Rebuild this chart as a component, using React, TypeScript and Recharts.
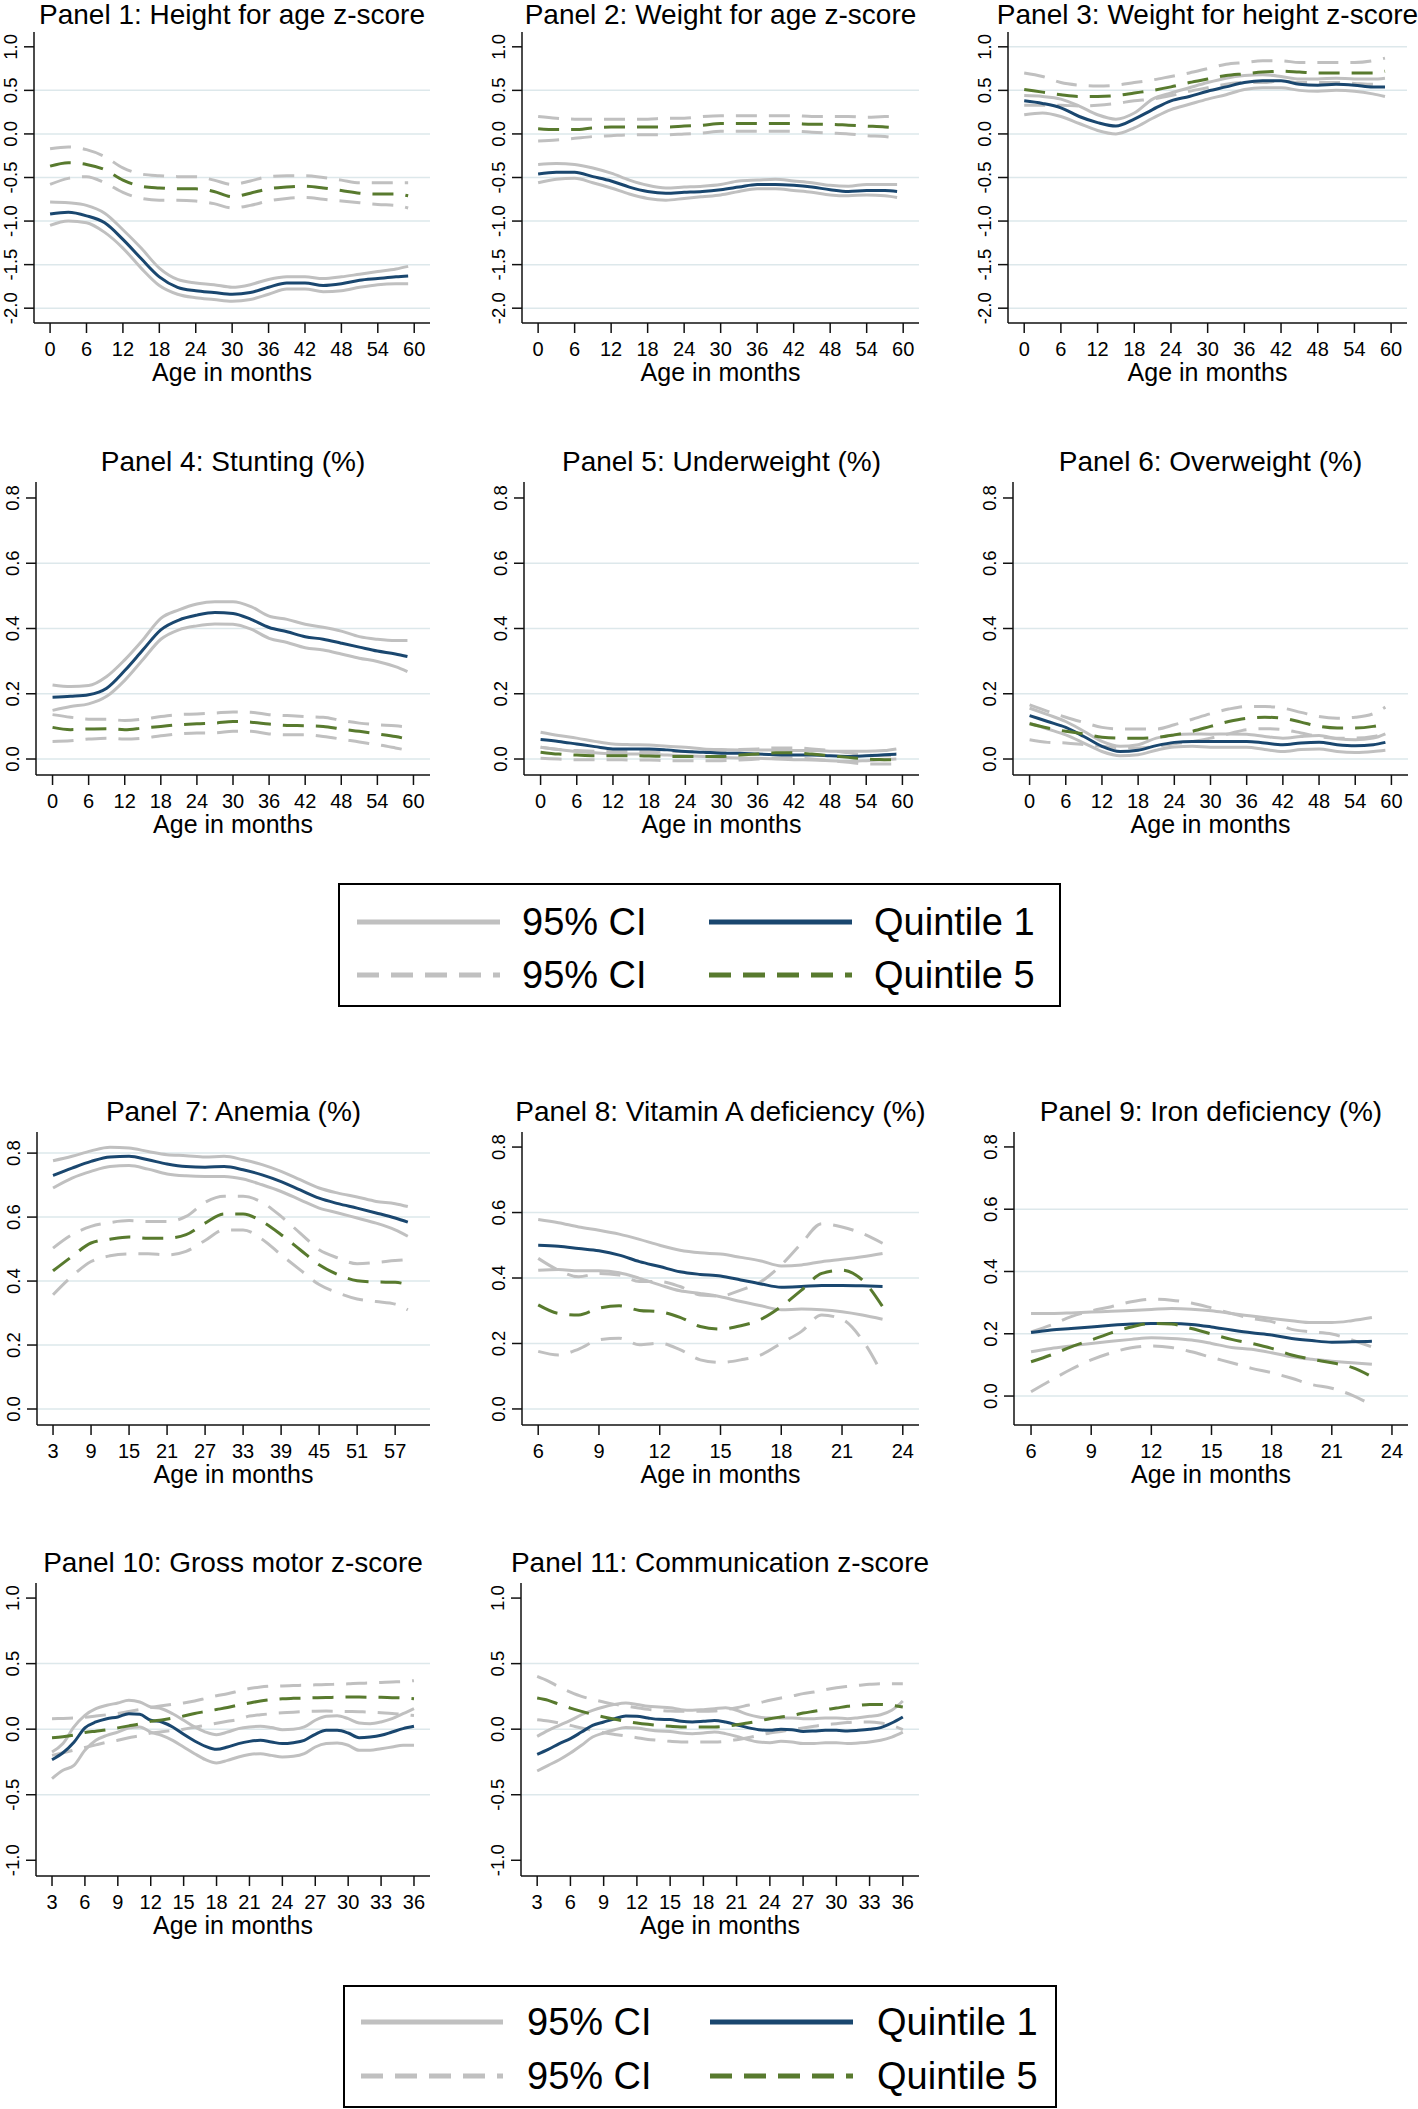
import React from 'react'
import { LineChart, Line, XAxis, YAxis, ReferenceLine } from 'recharts'

/* ────────────────────────────────────────────────────────
   Shared styles
───────────────────────────────────────────────────────── */
const FONT = '"Liberation Sans", Arial, Helvetica, sans-serif'
const BLUE = '#1a476f'
const GREEN = '#587a2e'
const GRAY = '#c0c0c0'
const GRID = '#dde8eb'
const AXIS = '#111111'
const DASH = '21 12'
const YW = 40 // y axis band
const XH = 45 // x axis band

/* ────────────────────────────────────────────────────────
   Ages (x values)
───────────────────────────────────────────────────────── */
const AGE_0_59 = [0, 3, 6, 9, 12, 15, 18, 21, 24, 27, 30, 33, 36, 39, 42, 45, 48, 51, 54, 57, 59]
const AGE_3_59 = [3, 6, 9, 12, 15, 18, 21, 24, 27, 30, 33, 36, 39, 42, 45, 48, 51, 54, 57, 59]
const AGE_6_23 = [6, 7, 8, 9, 10, 11, 12, 13, 14, 15, 16, 17, 18, 19, 20, 21, 22, 23]
const AGE_3_36 = [3, 4, 5, 6, 7, 8, 9, 10, 11, 12, 13, 14, 15, 16, 17, 18, 19, 20, 21, 22, 23, 24, 25, 26, 27, 28, 29, 30, 31, 32, 33, 34, 35, 36]

/* ────────────────────────────────────────────────────────
   Axis ticks
───────────────────────────────────────────────────────── */
const TICKS_0_60 = [0, 6, 12, 18, 24, 30, 36, 42, 48, 54, 60]
const TICKS_3_57 = [3, 9, 15, 21, 27, 33, 39, 45, 51, 57]
const TICKS_6_24 = [6, 9, 12, 15, 18, 21, 24]
const TICKS_3_36 = [3, 6, 9, 12, 15, 18, 21, 24, 27, 30, 33, 36]
const Z_TICKS = [-2, -1.5, -1, -0.5, 0, 0.5, 1]
const P_TICKS = [0, 0.2, 0.4, 0.6, 0.8]
const DEV_TICKS = [-1, -0.5, 0, 0.5, 1]

/* ────────────────────────────────────────────────────────
   Panel 1: Height for age z-score
───────────────────────────────────────────────────────── */
const p1Q1 = [-0.92, -0.90, -0.94, -1.02, -1.21, -1.43, -1.64, -1.76, -1.80, -1.82, -1.84, -1.82, -1.76, -1.71, -1.71, -1.74, -1.72, -1.68, -1.66, -1.64, -1.63]
const p1Q1Hi = [-0.78, -0.79, -0.82, -0.91, -1.10, -1.31, -1.54, -1.67, -1.71, -1.73, -1.76, -1.73, -1.67, -1.64, -1.64, -1.66, -1.64, -1.61, -1.58, -1.55, -1.52]
const p1Q1Lo = [-1.05, -1.00, -1.02, -1.13, -1.31, -1.54, -1.74, -1.84, -1.88, -1.90, -1.92, -1.90, -1.84, -1.78, -1.78, -1.81, -1.80, -1.76, -1.73, -1.72, -1.72]
const p1Q5 = [-0.37, -0.33, -0.35, -0.41, -0.53, -0.60, -0.62, -0.63, -0.63, -0.66, -0.72, -0.68, -0.63, -0.61, -0.60, -0.62, -0.65, -0.68, -0.69, -0.69, -0.71]
const p1Q5Hi = [-0.17, -0.15, -0.18, -0.26, -0.39, -0.46, -0.48, -0.49, -0.49, -0.53, -0.58, -0.54, -0.49, -0.48, -0.48, -0.50, -0.53, -0.56, -0.56, -0.56, -0.56]
const p1Q5Lo = [-0.58, -0.51, -0.49, -0.56, -0.67, -0.74, -0.76, -0.76, -0.77, -0.80, -0.85, -0.82, -0.77, -0.74, -0.73, -0.75, -0.77, -0.79, -0.81, -0.82, -0.85]

/* Panel 2: Weight for age z-score */
const p2Q1 = [-0.46, -0.44, -0.44, -0.49, -0.54, -0.61, -0.66, -0.68, -0.67, -0.66, -0.64, -0.61, -0.58, -0.58, -0.59, -0.61, -0.64, -0.66, -0.65, -0.65, -0.66]
const p2Q1Hi = [-0.35, -0.34, -0.35, -0.39, -0.45, -0.53, -0.59, -0.62, -0.61, -0.60, -0.58, -0.54, -0.53, -0.52, -0.54, -0.56, -0.59, -0.60, -0.58, -0.58, -0.58]
const p2Q1Lo = [-0.56, -0.52, -0.51, -0.56, -0.62, -0.69, -0.74, -0.76, -0.74, -0.72, -0.70, -0.66, -0.63, -0.63, -0.65, -0.67, -0.70, -0.71, -0.70, -0.71, -0.73]
const p2Q5 = [0.06, 0.05, 0.05, 0.07, 0.08, 0.08, 0.08, 0.08, 0.09, 0.10, 0.12, 0.12, 0.12, 0.12, 0.12, 0.11, 0.11, 0.10, 0.09, 0.08, 0.07]
const p2Q5Hi = [0.20, 0.18, 0.17, 0.17, 0.17, 0.17, 0.17, 0.18, 0.18, 0.20, 0.21, 0.21, 0.21, 0.21, 0.21, 0.20, 0.20, 0.20, 0.19, 0.20, 0.20]
const p2Q5Lo = [-0.08, -0.07, -0.05, -0.03, -0.02, -0.01, -0.01, -0.01, 0.00, 0.01, 0.03, 0.03, 0.03, 0.03, 0.03, 0.02, 0.01, 0.00, -0.02, -0.03, -0.05]

/* Panel 3: Weight for height z-score */
const p3Q1 = [0.38, 0.35, 0.30, 0.20, 0.13, 0.09, 0.17, 0.28, 0.38, 0.43, 0.49, 0.54, 0.59, 0.61, 0.61, 0.57, 0.56, 0.57, 0.56, 0.54, 0.54]
const p3Q1Hi = [0.44, 0.43, 0.40, 0.32, 0.22, 0.17, 0.24, 0.40, 0.47, 0.53, 0.59, 0.64, 0.67, 0.68, 0.66, 0.63, 0.63, 0.64, 0.63, 0.63, 0.64]
const p3Q1Lo = [0.22, 0.24, 0.20, 0.12, 0.04, 0.00, 0.07, 0.18, 0.28, 0.34, 0.40, 0.45, 0.51, 0.53, 0.53, 0.50, 0.49, 0.50, 0.49, 0.46, 0.43]
const p3Q5 = [0.51, 0.48, 0.45, 0.43, 0.43, 0.44, 0.47, 0.50, 0.54, 0.59, 0.63, 0.67, 0.69, 0.71, 0.72, 0.71, 0.70, 0.70, 0.70, 0.70, 0.72]
const p3Q5Hi = [0.70, 0.66, 0.59, 0.56, 0.55, 0.56, 0.59, 0.62, 0.66, 0.70, 0.75, 0.80, 0.82, 0.84, 0.84, 0.82, 0.82, 0.82, 0.82, 0.84, 0.87]
const p3Q5Lo = [0.33, 0.33, 0.33, 0.32, 0.33, 0.35, 0.38, 0.40, 0.44, 0.49, 0.53, 0.57, 0.59, 0.59, 0.61, 0.59, 0.59, 0.59, 0.58, 0.57, 0.57]

/* Panel 4: Stunting */
const p4Q1 = [0.189, 0.192, 0.197, 0.217, 0.271, 0.334, 0.396, 0.426, 0.441, 0.449, 0.446, 0.428, 0.403, 0.390, 0.375, 0.367, 0.355, 0.343, 0.331, 0.322, 0.314]
const p4Q1Hi = [0.227, 0.222, 0.225, 0.253, 0.304, 0.365, 0.431, 0.457, 0.475, 0.482, 0.482, 0.467, 0.438, 0.428, 0.413, 0.404, 0.392, 0.375, 0.367, 0.363, 0.363]
const p4Q1Lo = [0.149, 0.161, 0.169, 0.192, 0.241, 0.304, 0.367, 0.396, 0.408, 0.414, 0.413, 0.398, 0.370, 0.357, 0.341, 0.334, 0.322, 0.309, 0.299, 0.283, 0.268]
const p4Q5 = [0.097, 0.090, 0.092, 0.093, 0.090, 0.095, 0.100, 0.105, 0.108, 0.110, 0.115, 0.113, 0.107, 0.103, 0.102, 0.100, 0.092, 0.085, 0.077, 0.069, 0.061]
const p4Q5Hi = [0.136, 0.128, 0.122, 0.122, 0.118, 0.122, 0.130, 0.136, 0.138, 0.141, 0.144, 0.143, 0.136, 0.133, 0.130, 0.128, 0.118, 0.110, 0.105, 0.102, 0.098]
const p4Q5Lo = [0.054, 0.056, 0.061, 0.064, 0.061, 0.064, 0.071, 0.077, 0.080, 0.080, 0.085, 0.085, 0.077, 0.074, 0.074, 0.069, 0.061, 0.052, 0.044, 0.034, 0.027]

/* Panel 5: Underweight */
const p5Q1 = [0.060, 0.054, 0.046, 0.038, 0.031, 0.031, 0.031, 0.028, 0.023, 0.021, 0.018, 0.018, 0.015, 0.013, 0.012, 0.012, 0.010, 0.008, 0.010, 0.013, 0.015]
const p5Q1Hi = [0.082, 0.072, 0.064, 0.054, 0.046, 0.044, 0.043, 0.039, 0.036, 0.031, 0.029, 0.028, 0.028, 0.028, 0.026, 0.026, 0.024, 0.024, 0.024, 0.026, 0.031]
const p5Q1Lo = [0.036, 0.029, 0.023, 0.019, 0.015, 0.015, 0.015, 0.012, 0.010, 0.008, 0.005, 0.003, 0.002, 0.000, -0.002, -0.003, -0.005, -0.007, -0.005, -0.002, 0.000]
const p5Q5 = [0.021, 0.015, 0.012, 0.010, 0.010, 0.010, 0.009, 0.008, 0.008, 0.008, 0.008, 0.012, 0.015, 0.019, 0.019, 0.015, 0.010, 0.005, 0.000, -0.002, -0.003]
const p5Q5Hi = [0.036, 0.029, 0.026, 0.024, 0.023, 0.023, 0.023, 0.023, 0.023, 0.024, 0.026, 0.029, 0.031, 0.034, 0.034, 0.031, 0.026, 0.019, 0.012, 0.010, 0.010]
const p5Q5Lo = [0.002, 0.000, -0.002, -0.002, -0.002, -0.003, -0.003, -0.005, -0.005, -0.005, -0.005, -0.003, 0.000, 0.003, 0.003, 0.000, -0.005, -0.010, -0.015, -0.015, -0.015]

/* Panel 6: Overweight */
const p6Q1 = [0.133, 0.115, 0.097, 0.069, 0.039, 0.023, 0.027, 0.041, 0.051, 0.054, 0.054, 0.054, 0.054, 0.049, 0.044, 0.049, 0.051, 0.044, 0.041, 0.044, 0.051]
const p6Q1Hi = [0.156, 0.136, 0.115, 0.085, 0.054, 0.039, 0.044, 0.064, 0.074, 0.077, 0.076, 0.077, 0.076, 0.069, 0.064, 0.069, 0.072, 0.062, 0.059, 0.064, 0.077]
const p6Q1Lo = [0.110, 0.092, 0.074, 0.049, 0.023, 0.010, 0.013, 0.027, 0.037, 0.039, 0.036, 0.036, 0.036, 0.029, 0.023, 0.029, 0.031, 0.023, 0.020, 0.023, 0.027]
const p6Q5 = [0.108, 0.095, 0.085, 0.077, 0.067, 0.064, 0.064, 0.066, 0.074, 0.085, 0.100, 0.115, 0.125, 0.128, 0.125, 0.113, 0.100, 0.095, 0.095, 0.100, 0.108]
const p6Q5Hi = [0.166, 0.146, 0.128, 0.112, 0.097, 0.092, 0.092, 0.092, 0.105, 0.122, 0.139, 0.153, 0.161, 0.161, 0.156, 0.143, 0.130, 0.125, 0.128, 0.139, 0.159]
const p6Q5Lo = [0.059, 0.051, 0.049, 0.044, 0.039, 0.034, 0.034, 0.039, 0.047, 0.054, 0.064, 0.077, 0.090, 0.093, 0.090, 0.080, 0.069, 0.064, 0.064, 0.069, 0.077]

/* Panel 7: Anemia */
const p7Q1 = [0.730, 0.753, 0.774, 0.788, 0.790, 0.779, 0.766, 0.758, 0.756, 0.758, 0.748, 0.732, 0.711, 0.685, 0.659, 0.642, 0.628, 0.613, 0.597, 0.584]
const p7Q1Hi = [0.776, 0.790, 0.807, 0.818, 0.816, 0.805, 0.795, 0.792, 0.788, 0.790, 0.779, 0.764, 0.743, 0.717, 0.691, 0.675, 0.663, 0.649, 0.642, 0.633]
const p7Q1Lo = [0.691, 0.722, 0.743, 0.758, 0.761, 0.750, 0.735, 0.729, 0.727, 0.727, 0.719, 0.701, 0.680, 0.654, 0.628, 0.613, 0.597, 0.581, 0.560, 0.540]
const p7Q5 = [0.432, 0.477, 0.519, 0.531, 0.538, 0.534, 0.534, 0.545, 0.581, 0.610, 0.610, 0.586, 0.545, 0.498, 0.451, 0.420, 0.401, 0.397, 0.396, 0.389]
const p7Q5Hi = [0.503, 0.545, 0.571, 0.583, 0.589, 0.586, 0.586, 0.602, 0.646, 0.665, 0.665, 0.646, 0.602, 0.550, 0.498, 0.472, 0.454, 0.458, 0.464, 0.467]
const p7Q5Lo = [0.357, 0.415, 0.461, 0.479, 0.485, 0.485, 0.482, 0.493, 0.527, 0.560, 0.560, 0.531, 0.482, 0.435, 0.389, 0.363, 0.344, 0.336, 0.328, 0.310]

/* Panel 8: Vitamin A deficiency */
const p8Q1 = [0.500, 0.497, 0.490, 0.483, 0.470, 0.450, 0.435, 0.419, 0.411, 0.406, 0.394, 0.382, 0.372, 0.374, 0.377, 0.377, 0.376, 0.374]
const p8Q1Hi = [0.579, 0.569, 0.556, 0.546, 0.534, 0.518, 0.500, 0.485, 0.477, 0.473, 0.463, 0.452, 0.437, 0.440, 0.450, 0.457, 0.465, 0.475]
const p8Q1Lo = [0.424, 0.426, 0.422, 0.422, 0.416, 0.399, 0.379, 0.361, 0.353, 0.343, 0.328, 0.315, 0.303, 0.305, 0.303, 0.297, 0.287, 0.274]
const p8Q5 = [0.318, 0.292, 0.287, 0.308, 0.315, 0.301, 0.297, 0.280, 0.252, 0.244, 0.254, 0.274, 0.313, 0.363, 0.414, 0.424, 0.394, 0.313]
const p8Q5Hi = [0.460, 0.424, 0.404, 0.414, 0.409, 0.389, 0.389, 0.374, 0.348, 0.345, 0.363, 0.389, 0.440, 0.506, 0.566, 0.556, 0.536, 0.506]
const p8Q5Lo = [0.176, 0.165, 0.183, 0.211, 0.216, 0.196, 0.201, 0.181, 0.150, 0.142, 0.150, 0.165, 0.201, 0.237, 0.287, 0.274, 0.211, 0.105]

/* Panel 9: Iron deficiency */
const p9Q1 = [0.204, 0.212, 0.217, 0.222, 0.227, 0.231, 0.233, 0.233, 0.230, 0.222, 0.212, 0.203, 0.196, 0.185, 0.178, 0.173, 0.174, 0.176]
const p9Q1Hi = [0.265, 0.265, 0.267, 0.270, 0.272, 0.275, 0.278, 0.281, 0.279, 0.274, 0.265, 0.257, 0.249, 0.242, 0.236, 0.236, 0.242, 0.252]
const p9Q1Lo = [0.142, 0.153, 0.161, 0.169, 0.176, 0.182, 0.187, 0.185, 0.180, 0.169, 0.156, 0.150, 0.139, 0.126, 0.118, 0.112, 0.107, 0.102]
const p9Q5 = [0.110, 0.132, 0.158, 0.180, 0.203, 0.222, 0.233, 0.231, 0.217, 0.199, 0.182, 0.169, 0.153, 0.132, 0.118, 0.107, 0.092, 0.062]
const p9Q5Hi = [0.206, 0.228, 0.255, 0.273, 0.287, 0.303, 0.311, 0.308, 0.299, 0.283, 0.265, 0.249, 0.239, 0.214, 0.206, 0.199, 0.180, 0.158]
const p9Q5Lo = [0.014, 0.051, 0.086, 0.116, 0.139, 0.155, 0.161, 0.156, 0.142, 0.124, 0.107, 0.089, 0.075, 0.057, 0.037, 0.025, 0.003, -0.029]

/* Panel 10: Gross motor z-score */
const p10Q1 = [-0.233, -0.180, -0.100, 0.010, 0.055, 0.080, 0.093, 0.118, 0.113, 0.068, 0.055, 0.017, -0.039, -0.090, -0.131, -0.154, -0.136, -0.110, -0.093, -0.085, -0.098, -0.110, -0.103, -0.085, -0.039, -0.009, -0.009, -0.029, -0.065, -0.060, -0.047, -0.022, 0.004, 0.022]
const p10Q1Hi = [-0.174, -0.110, 0.017, 0.105, 0.156, 0.182, 0.200, 0.220, 0.207, 0.169, 0.156, 0.118, 0.068, 0.017, -0.022, -0.042, -0.022, 0.004, 0.017, 0.022, 0.012, -0.004, -0.001, 0.017, 0.068, 0.098, 0.103, 0.080, 0.047, 0.042, 0.055, 0.080, 0.118, 0.156]
const p10Q1Lo = [-0.377, -0.314, -0.276, -0.161, -0.085, -0.047, -0.022, 0.009, 0.017, -0.022, -0.047, -0.085, -0.136, -0.187, -0.233, -0.258, -0.238, -0.212, -0.194, -0.187, -0.200, -0.212, -0.207, -0.187, -0.136, -0.110, -0.105, -0.123, -0.161, -0.161, -0.149, -0.136, -0.123, -0.123]
const p10Q5 = [-0.065, -0.058, -0.045, -0.025, -0.015, -0.005, 0.010, 0.025, 0.040, 0.060, 0.070, 0.085, 0.100, 0.120, 0.135, 0.150, 0.165, 0.185, 0.200, 0.215, 0.225, 0.232, 0.235, 0.237, 0.240, 0.242, 0.243, 0.245, 0.245, 0.244, 0.243, 0.240, 0.238, 0.232]
const p10Q5Hi = [0.080, 0.082, 0.085, 0.090, 0.100, 0.110, 0.120, 0.135, 0.150, 0.165, 0.178, 0.190, 0.200, 0.215, 0.235, 0.255, 0.270, 0.290, 0.310, 0.322, 0.328, 0.330, 0.333, 0.335, 0.338, 0.340, 0.343, 0.346, 0.350, 0.352, 0.356, 0.360, 0.363, 0.370]
const p10Q5Lo = [-0.200, -0.180, -0.160, -0.140, -0.120, -0.100, -0.085, -0.065, -0.050, -0.030, -0.020, -0.010, 0.000, 0.015, 0.030, 0.045, 0.060, 0.075, 0.100, 0.110, 0.118, 0.125, 0.130, 0.134, 0.137, 0.138, 0.137, 0.135, 0.133, 0.130, 0.125, 0.120, 0.112, 0.105]

/* Panel 11: Communication z-score */
const p11Q1 = [-0.192, -0.154, -0.110, -0.072, -0.022, 0.029, 0.055, 0.080, 0.100, 0.098, 0.085, 0.075, 0.073, 0.060, 0.055, 0.060, 0.067, 0.055, 0.034, 0.012, -0.004, -0.009, -0.001, -0.004, -0.017, -0.014, -0.009, -0.009, -0.014, -0.009, -0.001, 0.012, 0.047, 0.093]
const p11Q1Hi = [-0.055, -0.009, 0.029, 0.067, 0.110, 0.144, 0.169, 0.189, 0.200, 0.189, 0.174, 0.169, 0.164, 0.149, 0.144, 0.149, 0.156, 0.164, 0.144, 0.113, 0.093, 0.085, 0.085, 0.085, 0.080, 0.080, 0.085, 0.085, 0.080, 0.088, 0.098, 0.110, 0.144, 0.215]
const p11Q1Lo = [-0.319, -0.276, -0.233, -0.182, -0.123, -0.060, -0.029, -0.004, 0.012, 0.009, -0.004, -0.014, -0.017, -0.029, -0.034, -0.029, -0.022, -0.034, -0.055, -0.080, -0.098, -0.103, -0.093, -0.098, -0.110, -0.110, -0.103, -0.103, -0.110, -0.105, -0.098, -0.085, -0.060, -0.022]
const p11Q5 = [0.238, 0.220, 0.189, 0.161, 0.136, 0.113, 0.093, 0.075, 0.060, 0.047, 0.037, 0.029, 0.022, 0.017, 0.017, 0.017, 0.017, 0.022, 0.034, 0.047, 0.062, 0.080, 0.093, 0.105, 0.123, 0.136, 0.149, 0.161, 0.174, 0.182, 0.189, 0.189, 0.182, 0.169]
const p11Q5Hi = [0.403, 0.367, 0.321, 0.283, 0.250, 0.227, 0.207, 0.189, 0.177, 0.164, 0.151, 0.144, 0.138, 0.136, 0.136, 0.136, 0.138, 0.149, 0.164, 0.182, 0.200, 0.220, 0.238, 0.253, 0.271, 0.283, 0.301, 0.316, 0.326, 0.334, 0.342, 0.347, 0.347, 0.347]
const p11Q5Lo = [0.072, 0.062, 0.047, 0.029, 0.009, -0.009, -0.027, -0.040, -0.052, -0.065, -0.078, -0.085, -0.093, -0.098, -0.098, -0.098, -0.098, -0.093, -0.080, -0.065, -0.047, -0.029, -0.017, -0.004, 0.009, 0.022, 0.034, 0.042, 0.050, 0.055, 0.055, 0.047, 0.029, -0.004]

/* ────────────────────────────────────────────────────────
   Table building
───────────────────────────────────────────────────────── */
function buildRows(ages: number[], q1: number[], q1Hi: number[], q1Lo: number[], q5: number[], q5Hi: number[], q5Lo: number[]) {
  return ages.map((age, i) => ({
    age, q1: q1[i], q1Hi: q1Hi[i], q1Lo: q1Lo[i], q5: q5[i], q5Hi: q5Hi[i], q5Lo: q5Lo[i],
  }))
}

interface PanelSpec {
  title: string
  rows: ReturnType<typeof buildRows>
  xDomain: [number, number]
  xTicks: number[]
  yDomain: [number, number]
  yTicks: number[]
  grid: number[]
  left: number   // page x of y axis
  right: number  // page x of plot right edge
  top: number    // page y of plot top
  bottom: number // page y of x axis
}

const ROW1_X: [number, number] = [-2.65, 62.6]
const ROW2_X: [number, number] = [-2.75, 62.75]
const ROW4_X: [number, number] = [1.54, 37.46]

const PANELS: PanelSpec[] = [
  { title: 'Panel 1: Height for age z-score', rows: buildRows(AGE_0_59, p1Q1, p1Q1Hi, p1Q1Lo, p1Q5, p1Q5Hi, p1Q5Lo),
    xDomain: ROW1_X, xTicks: TICKS_0_60, yDomain: [-2.17, 1.17], yTicks: Z_TICKS, grid: [0.5, 0, -0.5, -1, -1.5, -2],
    left: 34, right: 430, top: 32, bottom: 323 },
  { title: 'Panel 2: Weight for age z-score', rows: buildRows(AGE_0_59, p2Q1, p2Q1Hi, p2Q1Lo, p2Q5, p2Q5Hi, p2Q5Lo),
    xDomain: ROW1_X, xTicks: TICKS_0_60, yDomain: [-2.17, 1.17], yTicks: Z_TICKS, grid: [0.5, 0, -0.5, -1, -1.5, -2],
    left: 522, right: 919, top: 32, bottom: 323 },
  { title: 'Panel 3: Weight for height z-score', rows: buildRows(AGE_0_59, p3Q1, p3Q1Hi, p3Q1Lo, p3Q5, p3Q5Hi, p3Q5Lo),
    xDomain: ROW1_X, xTicks: TICKS_0_60, yDomain: [-2.17, 1.17], yTicks: Z_TICKS, grid: [1, 0.5, 0, -0.5, -1, -1.5, -2],
    left: 1008, right: 1407, top: 32, bottom: 323 },
  { title: 'Panel 4: Stunting (%)', rows: buildRows(AGE_0_59, p4Q1, p4Q1Hi, p4Q1Lo, p4Q5, p4Q5Hi, p4Q5Lo),
    xDomain: ROW2_X, xTicks: TICKS_0_60, yDomain: [-0.049, 0.849], yTicks: P_TICKS, grid: [0.6, 0.4, 0.2, 0],
    left: 36, right: 430, top: 482, bottom: 775 },
  { title: 'Panel 5: Underweight (%)', rows: buildRows(AGE_0_59, p5Q1, p5Q1Hi, p5Q1Lo, p5Q5, p5Q5Hi, p5Q5Lo),
    xDomain: ROW2_X, xTicks: TICKS_0_60, yDomain: [-0.049, 0.849], yTicks: P_TICKS, grid: [0.6, 0.4, 0.2, 0],
    left: 524, right: 919, top: 482, bottom: 775 },
  { title: 'Panel 6: Overweight (%)', rows: buildRows(AGE_0_59, p6Q1, p6Q1Hi, p6Q1Lo, p6Q5, p6Q5Hi, p6Q5Lo),
    xDomain: ROW2_X, xTicks: TICKS_0_60, yDomain: [-0.049, 0.849], yTicks: P_TICKS, grid: [0.6, 0.4, 0.2, 0],
    left: 1013, right: 1408, top: 482, bottom: 775 },
  { title: 'Panel 7: Anemia (%)', rows: buildRows(AGE_3_59, p7Q1, p7Q1Hi, p7Q1Lo, p7Q5, p7Q5Hi, p7Q5Lo),
    xDomain: [0.47, 62.5], xTicks: TICKS_3_57, yDomain: [-0.05, 0.866], yTicks: P_TICKS, grid: [0.8, 0.6, 0.4, 0.2, 0],
    left: 37, right: 430, top: 1132, bottom: 1425 },
  { title: 'Panel 8: Vitamin A deficiency (%)', rows: buildRows(AGE_6_23, p8Q1, p8Q1Hi, p8Q1Lo, p8Q5, p8Q5Hi, p8Q5Lo),
    xDomain: [5.2, 24.8], xTicks: TICKS_6_24, yDomain: [-0.049, 0.846], yTicks: P_TICKS, grid: [0.6, 0.4, 0.2, 0],
    left: 522, right: 919, top: 1132, bottom: 1425 },
  { title: 'Panel 9: Iron deficiency (%)', rows: buildRows(AGE_6_23, p9Q1, p9Q1Hi, p9Q1Lo, p9Q5, p9Q5Hi, p9Q5Lo),
    xDomain: [5.15, 24.8], xTicks: TICKS_6_24, yDomain: [-0.093, 0.848], yTicks: P_TICKS, grid: [0.6, 0.4, 0.2, 0],
    left: 1014, right: 1408, top: 1132, bottom: 1425 },
  { title: 'Panel 10: Gross motor z-score', rows: buildRows(AGE_3_36, p10Q1, p10Q1Hi, p10Q1Lo, p10Q5, p10Q5Hi, p10Q5Lo),
    xDomain: ROW4_X, xTicks: TICKS_3_36, yDomain: [-1.12, 1.115], yTicks: DEV_TICKS, grid: [0.5, 0, -0.5],
    left: 36, right: 430, top: 1583, bottom: 1876 },
  { title: 'Panel 11: Communication z-score', rows: buildRows(AGE_3_36, p11Q1, p11Q1Hi, p11Q1Lo, p11Q5, p11Q5Hi, p11Q5Lo),
    xDomain: ROW4_X, xTicks: TICKS_3_36, yDomain: [-1.12, 1.115], yTicks: DEV_TICKS, grid: [0.5, 0, -0.5],
    left: 521, right: 919, top: 1583, bottom: 1876 },
]

/* ────────────────────────────────────────────────────────
   Legends
───────────────────────────────────────────────────────── */
const LEGEND_ITEMS = [
  { label: '95% CI', color: GRAY, dash: undefined as string | undefined, col: 0, row: 0 },
  { label: 'Quintile 1', color: BLUE, dash: undefined as string | undefined, col: 1, row: 0 },
  { label: '95% CI', color: GRAY, dash: '22 12', col: 0, row: 1 },
  { label: 'Quintile 5', color: GREEN, dash: '22 12', col: 1, row: 1 },
]

const LEGENDS = [
  { x: 339, y: 884, w: 721, h: 122, rows: [922, 975], lines: [[357, 500], [709, 852]], texts: [522, 874] },
  { x: 344, y: 1986, w: 712, h: 121, rows: [2022, 2076], lines: [[361, 503], [710, 853]], texts: [527, 877] },
]

/* ────────────────────────────────────────────────────────
   Ticks
───────────────────────────────────────────────────────── */
function YTick(props: any) {
  const { x, y, payload } = props
  return (
    <text transform={`translate(${x - 7},${y}) rotate(-90)`} textAnchor="middle"
      fontSize={18.5} fontFamily={FONT} fill="#000">
      {Number(payload.value).toFixed(1)}
    </text>
  )
}

function XTick(props: any) {
  const { x, y, payload } = props
  return (
    <text x={x} y={y + 23} textAnchor="middle" fontSize={20} fontFamily={FONT} fill="#000">
      {payload.value}
    </text>
  )
}

/* ────────────────────────────────────────────────────────
   One panel
───────────────────────────────────────────────────────── */
function Panel({ p }: { p: PanelSpec }) {
  const plotW = p.right - p.left
  const plotH = p.bottom - p.top
  const width = YW + plotW + 10
  const height = 10 + plotH + XH
  return (
    <div style={{ position: 'absolute', left: p.left - YW, top: p.top - 10, width, height }}>
      <LineChart width={width} height={height} data={p.rows} margin={{ top: 10, right: 10, bottom: 0, left: 0 }}>
        <XAxis type="number" dataKey="age" domain={p.xDomain} ticks={p.xTicks} allowDataOverflow interval={0}
          height={XH} tickSize={10} tickMargin={0} tick={(t: any) => <XTick {...t} />}
          axisLine={{ stroke: AXIS, strokeWidth: 1.5 }} tickLine={{ stroke: AXIS, strokeWidth: 1.5 }} />
        <YAxis type="number" domain={p.yDomain} ticks={p.yTicks} allowDataOverflow interval={0}
          width={YW} tickSize={10} tickMargin={0} tick={(t: any) => <YTick {...t} />}
          axisLine={{ stroke: AXIS, strokeWidth: 1.5 }} tickLine={{ stroke: AXIS, strokeWidth: 1.5 }} />
        {p.grid.map((g) => (
          <ReferenceLine key={`g-${g}`} y={g} stroke={GRID} strokeWidth={1.5} />
        ))}
        <Line type="monotone" dataKey="q1Hi" stroke={GRAY} strokeWidth={3} dot={false} isAnimationActive={false} />
        <Line type="monotone" dataKey="q1Lo" stroke={GRAY} strokeWidth={3} dot={false} isAnimationActive={false} />
        <Line type="monotone" dataKey="q5Hi" stroke={GRAY} strokeWidth={3} strokeDasharray={DASH} dot={false} isAnimationActive={false} />
        <Line type="monotone" dataKey="q5Lo" stroke={GRAY} strokeWidth={3} strokeDasharray={DASH} dot={false} isAnimationActive={false} />
        <Line type="monotone" dataKey="q1" stroke={BLUE} strokeWidth={3} dot={false} isAnimationActive={false} />
        <Line type="monotone" dataKey="q5" stroke={GREEN} strokeWidth={3} strokeDasharray={DASH} dot={false} isAnimationActive={false} />
      </LineChart>
    </div>
  )
}

/* ────────────────────────────────────────────────────────
   App
───────────────────────────────────────────────────────── */
export default function App() {
  return (
    <div style={{ position: 'absolute', left: 0, top: 0, width: 1418, height: 2109, background: '#fff', overflow: 'hidden', fontFamily: FONT }}>
      <svg width={1418} height={2109} style={{ position: 'absolute', left: 0, top: 0 }}>
        {PANELS.map((p, i) => (
          <g key={`t-${i}`}>
            <text x={(p.left + p.right) / 2} y={i < 3 ? 24 : p.top - 11} textAnchor="middle" fontSize={28} fontFamily={FONT} fill="#000">
              {p.title}
            </text>
            <text x={(p.left + p.right) / 2} y={p.bottom + 58} textAnchor="middle" fontSize={25} fontFamily={FONT} fill="#000">
              Age in months
            </text>
          </g>
        ))}
        {LEGENDS.map((l, li) => (
          <g key={`l-${li}`}>
            <rect x={l.x} y={l.y} width={l.w} height={l.h} fill="#fff" stroke="#000" strokeWidth={2} />
            {LEGEND_ITEMS.map((it, k) => (
              <g key={`li-${k}`}>
                <line x1={l.lines[it.col][0]} x2={l.lines[it.col][1]} y1={l.rows[it.row]} y2={l.rows[it.row]}
                  stroke={it.color} strokeWidth={5} strokeDasharray={it.dash} />
                <text x={l.texts[it.col]} y={l.rows[it.row] + 13} fontSize={38} fontFamily={FONT} fill="#000">
                  {it.label}
                </text>
              </g>
            ))}
          </g>
        ))}
      </svg>
      {PANELS.map((p, i) => (
        <Panel key={`p-${i}`} p={p} />
      ))}
    </div>
  )
}
